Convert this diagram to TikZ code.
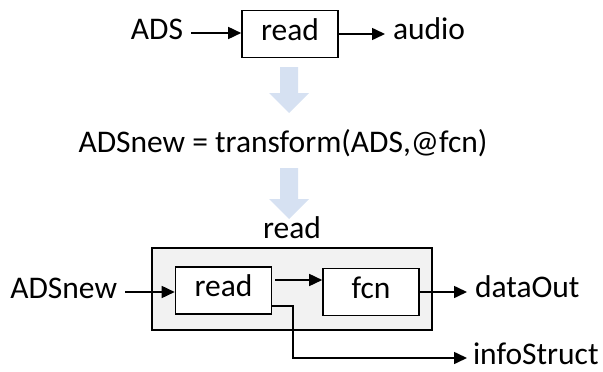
\documentclass[tikz,border=0pt]{standalone}
\usepackage{fontspec}
\setmainfont{Carlito}
\usetikzlibrary{arrows.meta,positioning}
\definecolor{boxgray}{HTML}{F2F2F2}
\definecolor{flowblue}{HTML}{D6E1F2}
\begin{document}
\begin{tikzpicture}[x=1pt, y=-1pt,
  every node/.style={font=\fontsize{31.5}{37}\selectfont, text height=20.5pt, text depth=8.5pt},
  lbl/.style={inner xsep=0pt, outer xsep=8pt, inner ysep=0pt},
  blk/.style={draw, line width=1.6pt, fill=white, minimum width=96pt, minimum height=47pt, inner sep=0pt},
  wire/.style={line width=1.6pt, -{Triangle[length=13pt,width=12pt]}}]
\useasboundingbox (0,0) rectangle (603,372);
\foreach \t/\s in {67/26, 168/31}
  \fill[flowblue] (280,\t) -- ++(18,0) -- ++(0,\s) -- ++(11,0) -- ++(-20,20) -- ++(-20,-20) -- ++(11,0) -- cycle;
\node[blk] (rd) at (290,34) {read};
\node[lbl, anchor=east] (ads) at (191,33) {ADS};
\node[lbl, anchor=west] (audio) at (385,33) {audio};
\draw[wire] (ads.east) -- (ads.east -| rd.west);
\draw[wire] (rd.east) -- (rd.east -| audio.west);
\node[lbl] (tf) at (283,146) {ADSnew = transform(ADS,@fcn)};
\node[blk, fill=boxgray, minimum width=280pt, minimum height=82pt] (outer) at (292,289) {};
\node[lbl, above=0pt of outer] (outlbl) {read};
\node[blk] (rd2) at (223.5,290.5) {read};
\node[blk] (fcn) at (371,292) {fcn};
\node[lbl, anchor=east] (adsn) at (125,292) {ADSnew};
\node[lbl, anchor=west] (dout) at (467,291) {dataOut};
\node[lbl, anchor=west, outer xsep=6pt] (info) at (467,358) {infoStruct};
\draw[wire] (adsn.east) -- (adsn.east -| rd2.west);
\draw[wire] ([xshift=3pt,yshift=10.5pt]rd2.east) -- ([yshift=10.5pt]rd2.east -| fcn.west);
\draw[wire] (fcn.east) -- (fcn.east -| dout.west);
\coordinate (tap) at (293,306);
\draw[wire] (rd2.east |- tap) -- (tap) |- (info.west);
\end{tikzpicture}
\end{document}
